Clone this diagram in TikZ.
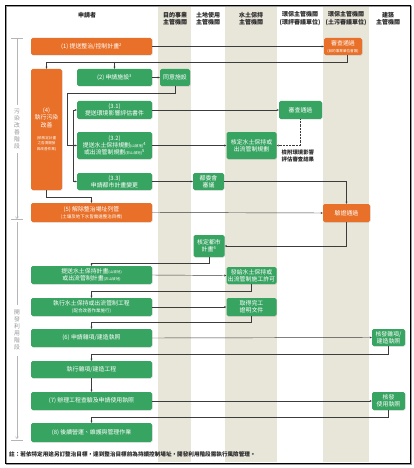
\documentclass[tikz,border=0pt]{standalone}
\usepackage{fontspec}
\setmainfont{Noto Sans CJK TC}
\usetikzlibrary{arrows.meta,shadows}
\definecolor{orc}{RGB}{232,112,40}
\definecolor{grc}{RGB}{56,164,98}
\definecolor{bandc}{RGB}{232,229,217}
\definecolor{linec}{RGB}{60,60,60}
\definecolor{stagec}{RGB}{150,150,150}
\tikzset{
  box/.style={rounded corners=1.6pt, text=white, align=center, inner sep=0pt,
    font=\fontsize{5.9}{7.1}\selectfont, drop shadow={shadow xshift=0.6pt, shadow yshift=-0.6pt, opacity=0.25}},
  og/.style={box, fill=orc},
  gr/.style={box, fill=grc},
  conn/.style={draw=linec, line width=0.45pt, -{Stealth[length=2.2pt,width=2pt]}},
  hdr/.style={font=\bfseries\fontsize{6}{7.5}\selectfont, align=center, text=black!85},
  stagetxt/.style={font=\fontsize{5.8}{7}\selectfont, align=center, text=stagec},
  stageline/.style={draw=stagec!70, line width=0.5pt},
}
\newcommand{\sm}[1]{{\fontsize{3.6}{4.5}\selectfont #1}}
\newcommand{\md}[1]{{\fontsize{4.5}{5.5}\selectfont #1}}
\begin{document}
\begin{tikzpicture}[x=1pt,y=-1pt]
\useasboundingbox (0,0) rectangle (414,468);
\fill[white] (0,0) rectangle (414,468);
% column bands
\fill[bandc] (158,6) rectangle (191,462);
\fill[bandc] (225,6) rectangle (277,462);
\fill[bandc] (323,6) rectangle (369,462);
% frame
\draw[black!40, line width=1pt] (6.5,6.5) rectangle (411,464);
\draw[black, line width=0.8pt] (5,5) rectangle (410,463);

% headers
\node[hdr] (h0) at (87,15) {申請者};
\node[hdr] (h1) at (175,18.5) {目的事業\\主管機關};
\node[hdr] (h2) at (208,18.5) {土地使用\\主管機關};
\node[hdr] (h3) at (251,18.5) {水土保持\\主管機關};
\node[hdr] (h4) at (300,18.5) {環保主管機關\\(環評審議單位)};
\node[hdr] (h5) at (346,18.5) {環保主管機關\\(土污審議單位)};
\node[hdr] (h6) at (388,18.5) {建築\\主管機關};

% stage markers
\coordinate (s1a) at (17,38);
\coordinate (s1b) at (17,105);
\coordinate (s1c) at (17,153);
\coordinate (s1d) at (17,219);
\draw[stageline] (11,38) -- (23,38);
\draw[stageline] (s1a) -- (s1b);
\node[stagetxt] (st1) at (17,129) {污\\染\\改\\善\\階\\段};
\draw[stageline, -{Straight Barb[length=2pt,width=3pt]}] (s1c) -- (s1d);
\draw[stageline] (11,219.5) -- (23,219.5);
\coordinate (s2a) at (17,222);
\coordinate (s2b) at (17,305);
\coordinate (s2c) at (17,356);
\coordinate (s2d) at (17,439);
\draw[stageline] (s2a) -- (s2b);
\node[stagetxt] (st2) at (17,330) {開\\發\\利\\用\\階\\段};
\draw[stageline, -{Straight Barb[length=2pt,width=3pt]}] (s2c) -- (s2d);
\draw[stageline] (11,440) -- (23,440);

% nodes
\node[og, minimum width=121pt, minimum height=17pt] (n1) at (91.5,46.5) {(1) 提送整治/控制計畫\textsuperscript{2}};
\node[og, minimum width=38pt, minimum height=17pt] (a1) at (343,46.5) {審查通過\\\sm{(目的事業單位會簽)}};
\node[og, minimum width=31pt, minimum height=121pt] (n4) at (46.5,129.5) {(4)\\執行污染\\改善\\[5pt]\sm{(依核定計畫}\\[-1.5pt]\sm{之各項開發}\\[-1.5pt]\sm{與改善作業)}};
\node[gr, minimum width=75pt, minimum height=17pt] (n2) at (114.5,77.5) {(2) 申請施設\textsuperscript{3}};
\node[gr, minimum width=30pt, minimum height=17pt] (b2) at (175,77.5) {同意施設};
\node[gr, minimum width=75pt, minimum height=18pt] (n31) at (114.5,110) {(3.1)\\提送環境影響評估書件};
\node[gr, minimum width=43pt, minimum height=18pt] (c31) at (300.5,110) {審查通過};
\node[gr, minimum width=75pt, minimum height=27pt] (n32) at (114.5,145.5) {(3.2)\\提送水土保持規劃\sm{(山坡地)}\textsuperscript{4}\\或出流管制規劃\sm{(非山坡地)}\textsuperscript{5}};
\node[gr, minimum width=50pt, minimum height=27pt] (d32) at (251.5,145.5) {核定水土保持或\\出流管制規劃};
\node[gr, minimum width=75pt, minimum height=17pt] (n33) at (114.5,181.5) {(3.3)\\申請都市計畫變更};
\node[gr, minimum width=31pt, minimum height=17pt] (e33) at (208.5,181.5) {都委會\\審議};
\node[og, minimum width=121pt, minimum height=19pt] (n5) at (91.5,212.5) {(5) 解除整治場址列管\\\md{(土壤及地下水皆需達整治目標)}};
\node[og, minimum width=47pt, minimum height=18pt] (f5) at (346.5,213) {驗證通過};
\node[gr, minimum width=31pt, minimum height=22pt] (g1) at (209,246) {核定都市\\計畫\textsuperscript{6}};
\node[gr, minimum width=121pt, minimum height=18pt] (n6a) at (91.5,275) {提送水土保持計畫\sm{(山坡地)}\\或出流管制計畫\sm{(非山坡地)}};
\node[gr, minimum width=50pt, minimum height=17pt] (h1b) at (251.5,275.5) {發給水土保持或\\出流管制施工許可};
\node[gr, minimum width=121pt, minimum height=18pt] (n6b) at (91.5,307) {執行水土保持或出流管制工程\\\md{(配合改善作業施行)}};
\node[gr, minimum width=50pt, minimum height=18pt] (i1) at (251.5,307) {取得完工\\證明文件};
\node[gr, minimum width=121pt, minimum height=18pt] (n6) at (91.5,338) {(6) 申請雜項/建造執照};
\node[gr, minimum width=33pt, minimum height=17pt] (j1) at (388.5,337.5) {核發雜項/\\建造執照};
\node[gr, minimum width=121pt, minimum height=17pt] (n6c) at (91.5,369.5) {執行雜項/建造工程};
\node[gr, minimum width=121pt, minimum height=18pt] (n7) at (91.5,401) {(7) 辦理工程查驗及申請使用執照};
\node[gr, minimum width=33pt, minimum height=18pt] (k1) at (388.5,401) {核發\\使用執照};
\node[gr, minimum width=121pt, minimum height=19pt] (n8) at (91.5,432.5) {(8) 後續營運、維護與管理作業};

\node[font=\bfseries\fontsize{5.4}{6.6}\selectfont, align=left, anchor=north west, inner sep=0pt, text=black!85] (lbl) at (281.5,149.5) {檢附環境影響\\評估審查結果};
\node[font=\bfseries\fontsize{5.6}{6.6}\selectfont, anchor=west, inner sep=0pt, text=black!85] (note) at (9,454) {註：若依特定用途另訂整治目標，達到整治目標前為持續控制場址，開發利用階段需執行風險管理。};

% connectors
\draw[conn] (n1.east) -- (a1.west);
\coordinate (t1) at (46.5,62);
\draw[conn] ([xshift=4pt]a1.south) |- (t1) -- (n4.north);
\draw[conn] (n2.north |- t1) -- (n2.north);
\draw[conn] (n2.east) -- (b2.west);
\coordinate (t2) at (67,93);
\draw[conn] (b2.south) |- (t2) |- (n32.west);
\coordinate (t3) at (73,145.5);
\draw[conn] (t3) |- (n31.west);
\draw[conn] (t3) |- (n33.west);
\draw[conn] (n31.east) -- (c31.west);
\draw[conn] (n32.east) -- (d32.west);
\draw[conn, densely dotted] (c31.south) |- (d32.east);
\draw[conn] (n33.east) -- (e33.west);
\draw[conn] (e33.east) -| (f5.north);
\coordinate (t4) at (91.5,197);
\draw[conn] (n4.south) |- (t4) -- (n5.north);
\draw[conn] (n5.east) -- (f5.west);
\draw[conn] (f5.south) |- (g1.east);
\coordinate (t5) at (91.5,263);
\draw[conn] (g1.south) |- (t5) -- (n6a.north);
\draw[conn] (n6a.east) -- (h1b.west);
\coordinate (t6) at (91.5,291);
\draw[conn] (h1b.south) |- (t6) -- (n6b.north);
\draw[conn] (n6b.east) -- (i1.west);
\coordinate (t7) at (91.5,322);
\draw[conn] (i1.south) |- (t7) -- (n6.north);
\draw[conn] (n6.east) -- (j1.west);
\coordinate (t8) at (91.5,354);
\draw[conn] (j1.south) |- (t8) -- (n6c.north);
\draw[conn] (n6c.south) -- (n7.north);
\draw[conn] (n7.east) -- (k1.west);
\coordinate (t9) at (91.5,417);
\draw[conn] (k1.south) |- (t9) -- (n8.north);
\end{tikzpicture}
\end{document}
